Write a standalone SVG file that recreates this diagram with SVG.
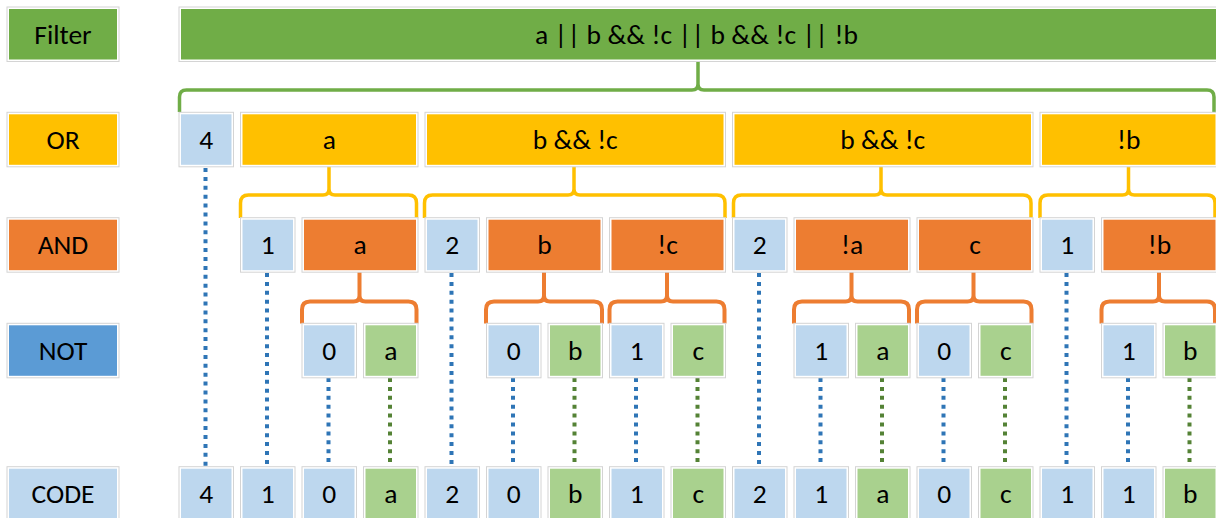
<svg xmlns="http://www.w3.org/2000/svg" width="1216" height="518" viewBox="0 0 1216 518">
  <style>
    .frame { fill: #ffffff; stroke: #d4d4d4; stroke-width: 1; }
    .t { font-family: Carlito, Calibri, "Liberation Sans", Arial, sans-serif; font-size: 27.5px; fill: #000000; text-anchor: middle; }
    .filter { fill: #70ad47; }
    .or { fill: #ffc000; }
    .and { fill: #ed7d31; }
    .not { fill: #5b9bd5; }
    .num { fill: #bdd7ee; }
    .let { fill: #a9d18e; }
    .brace { fill: none; stroke-linecap: butt; stroke-linejoin: round; }
    .b-green { stroke: #70ad47; stroke-width: 3.5; }
    .b-gold { stroke: #ffc000; stroke-width: 3.5; }
    .b-orange { stroke: #ed7d31; stroke-width: 4; }
    .dot { fill: none; stroke-width: 4; stroke-dasharray: 4 4.9; }
    .dot-blue { stroke: #2e75b6; }
    .dot-green { stroke: #548235; }
  </style>

  <!-- row labels -->
  <g id="label-filter"><rect class="frame" x="7" y="7" width="112" height="54.5"/><rect class="filter" x="9" y="9" width="108" height="50.5"/><text class="t" x="63" y="43.5">Filter</text></g>
  <g id="label-or"><rect class="frame" x="7" y="112.3" width="112" height="54.5"/><rect class="or" x="9" y="114.3" width="108" height="50.5"/><text class="t" x="63" y="148.8">OR</text></g>
  <g id="label-and"><rect class="frame" x="7" y="217.7" width="112" height="54.5"/><rect class="and" x="9" y="219.7" width="108" height="50.5"/><text class="t" x="63" y="254.2">AND</text></g>
  <g id="label-not"><rect class="frame" x="7" y="323.3" width="112" height="54.5"/><rect class="not" x="9" y="325.3" width="108" height="50.5"/><text class="t" x="63" y="359.8">NOT</text></g>
  <g id="label-code"><rect class="frame" x="7" y="466.7" width="112" height="54.5"/><rect class="num" x="9" y="468.7" width="108" height="50.5"/><text class="t" x="63" y="503.2">CODE</text></g>

  <!-- connectors: braces and dotted drop lines -->
  <g id="connectors">
    <path class="brace b-green" d="M179.5,112 L179.5,97 Q179.5,90 186.5,90 L692,90 Q698,90 698,84 L698,59.5 M698,84 Q698,90 704,90 L1207,90 Q1214,90 1214,97 L1214,112"/>

    <path class="brace b-gold" d="M240.5,218 L240.5,203 Q240.5,195 248.5,195 L323,195 Q329,195 329,189 L329,165 M329,189 Q329,195 335,195 L408.5,195 Q416.5,195 416.5,203 L416.5,218"/>
    <path class="brace b-gold" d="M424.5,218 L424.5,203 Q424.5,195 432.5,195 L568,195 Q574,195 574,189 L574,165 M574,189 Q574,195 580,195 L717,195 Q725,195 725,203 L725,218"/>
    <path class="brace b-gold" d="M733.5,218 L733.5,203 Q733.5,195 741.5,195 L875,195 Q881,195 881,189 L881,165 M881,189 Q881,195 887,195 L1023,195 Q1031,195 1031,203 L1031,218"/>
    <path class="brace b-gold" d="M1040,218 L1040,203 Q1040,195 1048,195 L1122.5,195 Q1128.5,195 1128.5,189 L1128.5,165 M1128.5,189 Q1128.5,195 1134.5,195 L1207,195 Q1215,195 1215,203 L1215,218"/>

    <path class="brace b-orange" d="M302,323.5 L302,309.5 Q302,301.5 310,301.5 L353.5,301.5 Q359.5,301.5 359.5,295.5 L359.5,270 M359.5,295.5 Q359.5,301.5 365.5,301.5 L408.5,301.5 Q416.5,301.5 416.5,309.5 L416.5,323.5"/>
    <path class="brace b-orange" d="M486,323.5 L486,309.5 Q486,301.5 494,301.5 L538,301.5 Q544,301.5 544,295.5 L544,270 M544,295.5 Q544,301.5 550,301.5 L594,301.5 Q602,301.5 602,309.5 L602,323.5"/>
    <path class="brace b-orange" d="M609.5,323.5 L609.5,309.5 Q609.5,301.5 617.5,301.5 L661,301.5 Q667,301.5 667,295.5 L667,270 M667,295.5 Q667,301.5 673,301.5 L716.5,301.5 Q724.5,301.5 724.5,309.5 L724.5,323.5"/>
    <path class="brace b-orange" d="M794,323.5 L794,309.5 Q794,301.5 802,301.5 L845.5,301.5 Q851.5,301.5 851.5,295.5 L851.5,270 M851.5,295.5 Q851.5,301.5 857.5,301.5 L901,301.5 Q909,301.5 909,309.5 L909,323.5"/>
    <path class="brace b-orange" d="M917,323.5 L917,309.5 Q917,301.5 925,301.5 L967.5,301.5 Q973.5,301.5 973.5,295.5 L973.5,270 M973.5,295.5 Q973.5,301.5 979.5,301.5 L1023.5,301.5 Q1031.5,301.5 1031.5,309.5 L1031.5,323.5"/>
    <path class="brace b-orange" d="M1101.5,323.5 L1101.5,309.5 Q1101.5,301.5 1109.5,301.5 L1153,301.5 Q1159,301.5 1159,295.5 L1159,270 M1159,295.5 Q1159,301.5 1165,301.5 L1207,301.5 Q1215,301.5 1215,309.5 L1215,323.5"/>

    <!-- count cells dropping to the code row -->
    <line class="dot dot-blue" x1="205.5" y1="168" x2="205.5" y2="467"/>
    <line class="dot dot-blue" x1="267" y1="273" x2="267" y2="467"/>
    <line class="dot dot-blue" x1="451.5" y1="273" x2="451.5" y2="467"/>
    <line class="dot dot-blue" x1="759" y1="273" x2="759" y2="467"/>
    <line class="dot dot-blue" x1="1066.5" y1="273" x2="1066.5" y2="467"/>

    <!-- NOT cells dropping to the code row -->
    <line class="dot dot-blue" x1="328.5" y1="378" x2="328.5" y2="467"/>
    <line class="dot dot-green" x1="390" y1="378" x2="390" y2="467"/>
    <line class="dot dot-blue" x1="513" y1="378" x2="513" y2="467"/>
    <line class="dot dot-green" x1="574.5" y1="378" x2="574.5" y2="467"/>
    <line class="dot dot-blue" x1="636" y1="378" x2="636" y2="467"/>
    <line class="dot dot-green" x1="697.5" y1="378" x2="697.5" y2="467"/>
    <line class="dot dot-blue" x1="820.5" y1="378" x2="820.5" y2="467"/>
    <line class="dot dot-green" x1="882" y1="378" x2="882" y2="467"/>
    <line class="dot dot-blue" x1="943.5" y1="378" x2="943.5" y2="467"/>
    <line class="dot dot-green" x1="1005" y1="378" x2="1005" y2="467"/>
    <line class="dot dot-blue" x1="1128" y1="378" x2="1128" y2="467"/>
    <line class="dot dot-green" x1="1189.5" y1="378" x2="1189.5" y2="467"/>
  </g>

  <!-- Filter row -->
  <g id="filter"><rect class="frame" x="179" y="7" width="1040" height="54.5"/><rect class="filter" x="181" y="9" width="1036" height="50.5"/><text class="t" x="535" y="43.5" style="text-anchor:start" textLength="323" lengthAdjust="spacing">a || b &amp;&amp; !c || b &amp;&amp; !c || !b</text></g>

  <!-- OR row -->
  <g id="or-count"><rect class="frame" x="179" y="112.3" width="54.5" height="54.5"/><rect class="num" x="181" y="114.3" width="50.5" height="50.5"/><text class="t" x="206.25" y="148.8">4</text></g>
  <g id="or-1"><rect class="frame" x="240.5" y="112.3" width="177.5" height="54.5"/><rect class="or" x="242.5" y="114.3" width="173.5" height="50.5"/><text class="t" x="329.25" y="148.8">a</text></g>
  <g id="or-2"><rect class="frame" x="425" y="112.3" width="300.5" height="54.5"/><rect class="or" x="427" y="114.3" width="296.5" height="50.5"/><text class="t" x="575.25" y="148.8">b &amp;&amp; !c</text></g>
  <g id="or-3"><rect class="frame" x="732.5" y="112.3" width="300.5" height="54.5"/><rect class="or" x="734.5" y="114.3" width="296.5" height="50.5"/><text class="t" x="882.75" y="148.8">b &amp;&amp; !c</text></g>
  <g id="or-4"><rect class="frame" x="1040" y="112.3" width="177.5" height="54.5"/><rect class="or" x="1042" y="114.3" width="173.5" height="50.5"/><text class="t" x="1128.75" y="148.8">!b</text></g>

  <!-- AND row -->
  <g id="and-count-1"><rect class="frame" x="240.5" y="217.7" width="54.5" height="54.5"/><rect class="num" x="242.5" y="219.7" width="50.5" height="50.5"/><text class="t" x="267.75" y="254.2">1</text></g>
  <g id="and-1a"><rect class="frame" x="302" y="217.7" width="116" height="54.5"/><rect class="and" x="304" y="219.7" width="112" height="50.5"/><text class="t" x="360" y="254.2">a</text></g>
  <g id="and-count-2"><rect class="frame" x="425" y="217.7" width="54.5" height="54.5"/><rect class="num" x="427" y="219.7" width="50.5" height="50.5"/><text class="t" x="452.25" y="254.2">2</text></g>
  <g id="and-2a"><rect class="frame" x="486.5" y="217.7" width="116" height="54.5"/><rect class="and" x="488.5" y="219.7" width="112" height="50.5"/><text class="t" x="544.5" y="254.2">b</text></g>
  <g id="and-2b"><rect class="frame" x="609.5" y="217.7" width="116" height="54.5"/><rect class="and" x="611.5" y="219.7" width="112" height="50.5"/><text class="t" x="667.5" y="254.2">!c</text></g>
  <g id="and-count-3"><rect class="frame" x="732.5" y="217.7" width="54.5" height="54.5"/><rect class="num" x="734.5" y="219.7" width="50.5" height="50.5"/><text class="t" x="759.75" y="254.2">2</text></g>
  <g id="and-3a"><rect class="frame" x="794" y="217.7" width="116" height="54.5"/><rect class="and" x="796" y="219.7" width="112" height="50.5"/><text class="t" x="852" y="254.2">!a</text></g>
  <g id="and-3b"><rect class="frame" x="917" y="217.7" width="116" height="54.5"/><rect class="and" x="919" y="219.7" width="112" height="50.5"/><text class="t" x="975" y="254.2">c</text></g>
  <g id="and-count-4"><rect class="frame" x="1040" y="217.7" width="54.5" height="54.5"/><rect class="num" x="1042" y="219.7" width="50.5" height="50.5"/><text class="t" x="1067.25" y="254.2">1</text></g>
  <g id="and-4a"><rect class="frame" x="1101.5" y="217.7" width="116" height="54.5"/><rect class="and" x="1103.5" y="219.7" width="112" height="50.5"/><text class="t" x="1159.5" y="254.2">!b</text></g>

  <!-- NOT row -->
  <g id="not-1a-flag"><rect class="frame" x="302" y="323.3" width="54.5" height="54.5"/><rect class="num" x="304" y="325.3" width="50.5" height="50.5"/><text class="t" x="329.25" y="359.8">0</text></g>
  <g id="not-1a-var"><rect class="frame" x="363.5" y="323.3" width="54.5" height="54.5"/><rect class="let" x="365.5" y="325.3" width="50.5" height="50.5"/><text class="t" x="390.75" y="359.8">a</text></g>
  <g id="not-2a-flag"><rect class="frame" x="486.5" y="323.3" width="54.5" height="54.5"/><rect class="num" x="488.5" y="325.3" width="50.5" height="50.5"/><text class="t" x="513.75" y="359.8">0</text></g>
  <g id="not-2a-var"><rect class="frame" x="548" y="323.3" width="54.5" height="54.5"/><rect class="let" x="550" y="325.3" width="50.5" height="50.5"/><text class="t" x="575.25" y="359.8">b</text></g>
  <g id="not-2b-flag"><rect class="frame" x="609.5" y="323.3" width="54.5" height="54.5"/><rect class="num" x="611.5" y="325.3" width="50.5" height="50.5"/><text class="t" x="636.75" y="359.8">1</text></g>
  <g id="not-2b-var"><rect class="frame" x="671" y="323.3" width="54.5" height="54.5"/><rect class="let" x="673" y="325.3" width="50.5" height="50.5"/><text class="t" x="698.25" y="359.8">c</text></g>
  <g id="not-3a-flag"><rect class="frame" x="794" y="323.3" width="54.5" height="54.5"/><rect class="num" x="796" y="325.3" width="50.5" height="50.5"/><text class="t" x="821.25" y="359.8">1</text></g>
  <g id="not-3a-var"><rect class="frame" x="855.5" y="323.3" width="54.5" height="54.5"/><rect class="let" x="857.5" y="325.3" width="50.5" height="50.5"/><text class="t" x="882.75" y="359.8">a</text></g>
  <g id="not-3b-flag"><rect class="frame" x="917" y="323.3" width="54.5" height="54.5"/><rect class="num" x="919" y="325.3" width="50.5" height="50.5"/><text class="t" x="944.25" y="359.8">0</text></g>
  <g id="not-3b-var"><rect class="frame" x="978.5" y="323.3" width="54.5" height="54.5"/><rect class="let" x="980.5" y="325.3" width="50.5" height="50.5"/><text class="t" x="1005.75" y="359.8">c</text></g>
  <g id="not-4a-flag"><rect class="frame" x="1101.5" y="323.3" width="54.5" height="54.5"/><rect class="num" x="1103.5" y="325.3" width="50.5" height="50.5"/><text class="t" x="1128.75" y="359.8">1</text></g>
  <g id="not-4a-var"><rect class="frame" x="1163" y="323.3" width="54.5" height="54.5"/><rect class="let" x="1165" y="325.3" width="50.5" height="50.5"/><text class="t" x="1190.25" y="359.8">b</text></g>

  <!-- CODE row -->
  <g id="code-0"><rect class="frame" x="179" y="466.7" width="54.5" height="54.5"/><rect class="num" x="181" y="468.7" width="50.5" height="50.5"/><text class="t" x="206.25" y="503.2">4</text></g>
  <g id="code-1"><rect class="frame" x="240.5" y="466.7" width="54.5" height="54.5"/><rect class="num" x="242.5" y="468.7" width="50.5" height="50.5"/><text class="t" x="267.75" y="503.2">1</text></g>
  <g id="code-2"><rect class="frame" x="302" y="466.7" width="54.5" height="54.5"/><rect class="num" x="304" y="468.7" width="50.5" height="50.5"/><text class="t" x="329.25" y="503.2">0</text></g>
  <g id="code-3"><rect class="frame" x="363.5" y="466.7" width="54.5" height="54.5"/><rect class="let" x="365.5" y="468.7" width="50.5" height="50.5"/><text class="t" x="390.75" y="503.2">a</text></g>
  <g id="code-4"><rect class="frame" x="425" y="466.7" width="54.5" height="54.5"/><rect class="num" x="427" y="468.7" width="50.5" height="50.5"/><text class="t" x="452.25" y="503.2">2</text></g>
  <g id="code-5"><rect class="frame" x="486.5" y="466.7" width="54.5" height="54.5"/><rect class="num" x="488.5" y="468.7" width="50.5" height="50.5"/><text class="t" x="513.75" y="503.2">0</text></g>
  <g id="code-6"><rect class="frame" x="548" y="466.7" width="54.5" height="54.5"/><rect class="let" x="550" y="468.7" width="50.5" height="50.5"/><text class="t" x="575.25" y="503.2">b</text></g>
  <g id="code-7"><rect class="frame" x="609.5" y="466.7" width="54.5" height="54.5"/><rect class="num" x="611.5" y="468.7" width="50.5" height="50.5"/><text class="t" x="636.75" y="503.2">1</text></g>
  <g id="code-8"><rect class="frame" x="671" y="466.7" width="54.5" height="54.5"/><rect class="let" x="673" y="468.7" width="50.5" height="50.5"/><text class="t" x="698.25" y="503.2">c</text></g>
  <g id="code-9"><rect class="frame" x="732.5" y="466.7" width="54.5" height="54.5"/><rect class="num" x="734.5" y="468.7" width="50.5" height="50.5"/><text class="t" x="759.75" y="503.2">2</text></g>
  <g id="code-10"><rect class="frame" x="794" y="466.7" width="54.5" height="54.5"/><rect class="num" x="796" y="468.7" width="50.5" height="50.5"/><text class="t" x="821.25" y="503.2">1</text></g>
  <g id="code-11"><rect class="frame" x="855.5" y="466.7" width="54.5" height="54.5"/><rect class="let" x="857.5" y="468.7" width="50.5" height="50.5"/><text class="t" x="882.75" y="503.2">a</text></g>
  <g id="code-12"><rect class="frame" x="917" y="466.7" width="54.5" height="54.5"/><rect class="num" x="919" y="468.7" width="50.5" height="50.5"/><text class="t" x="944.25" y="503.2">0</text></g>
  <g id="code-13"><rect class="frame" x="978.5" y="466.7" width="54.5" height="54.5"/><rect class="let" x="980.5" y="468.7" width="50.5" height="50.5"/><text class="t" x="1005.75" y="503.2">c</text></g>
  <g id="code-14"><rect class="frame" x="1040" y="466.7" width="54.5" height="54.5"/><rect class="num" x="1042" y="468.7" width="50.5" height="50.5"/><text class="t" x="1067.25" y="503.2">1</text></g>
  <g id="code-15"><rect class="frame" x="1101.5" y="466.7" width="54.5" height="54.5"/><rect class="num" x="1103.5" y="468.7" width="50.5" height="50.5"/><text class="t" x="1128.75" y="503.2">1</text></g>
  <g id="code-16"><rect class="frame" x="1163" y="466.7" width="54.5" height="54.5"/><rect class="let" x="1165" y="468.7" width="50.5" height="50.5"/><text class="t" x="1190.25" y="503.2">b</text></g>
</svg>
